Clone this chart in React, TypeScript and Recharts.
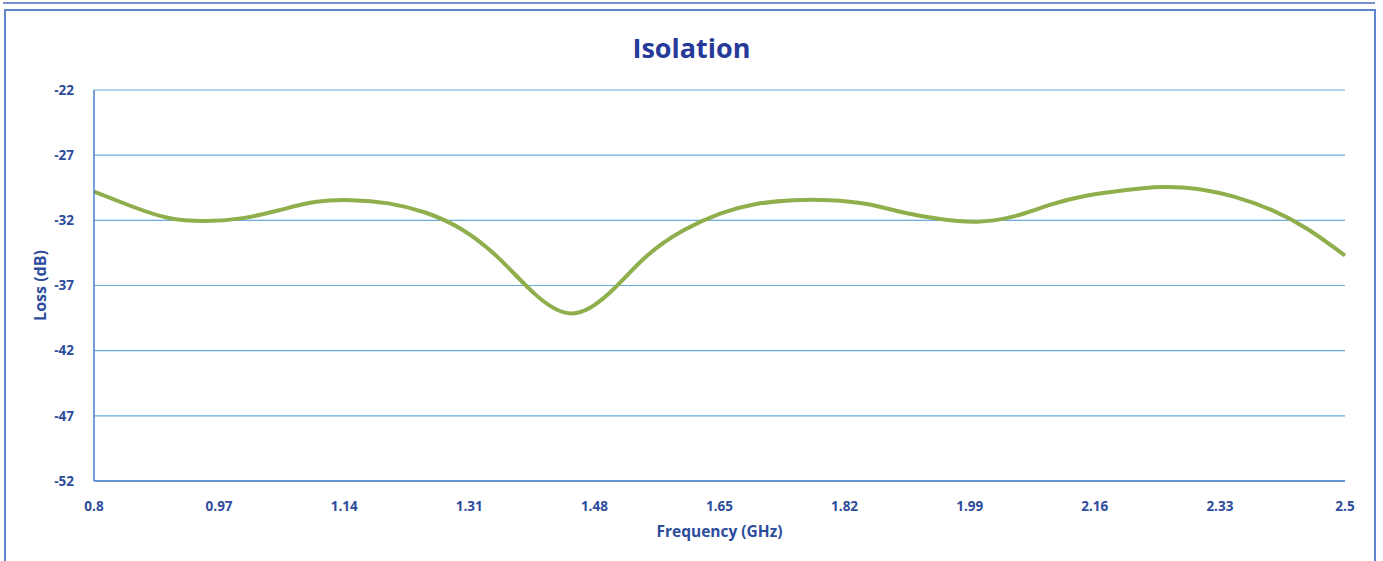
import { LineChart, Line, XAxis, YAxis, CartesianGrid } from 'recharts';

const frequencies = [
  0.8, 0.85, 0.9, 0.95, 1.0, 1.05, 1.1, 1.15, 1.2, 1.25, 1.3, 1.35, 1.4, 1.45, 1.5, 1.55, 1.6, 1.65,
  1.7, 1.75, 1.8, 1.85, 1.9, 1.95, 2.0, 2.05, 2.1, 2.15, 2.2, 2.25, 2.3, 2.35, 2.4, 2.45, 2.5,
];
const isolation = [
  -29.8, -30.9, -31.8, -32.05, -31.85, -31.25, -30.6, -30.45, -30.7, -31.4, -32.7, -34.9, -37.7, -39.15,
  -37.6, -34.8, -32.8, -31.5, -30.75, -30.45, -30.45, -30.75, -31.4, -31.9, -32.1, -31.7, -30.8,
  -30.1, -29.7, -29.45, -29.6, -30.2, -31.2, -32.7, -34.7,
];
const xTicks = [0.8, 0.97, 1.14, 1.31, 1.48, 1.65, 1.82, 1.99, 2.16, 2.33, 2.5];
const yTicks = [-52, -47, -42, -37, -32, -27, -22];

const data = frequencies.map((f, i) => ({ freq: f, loss: isolation[i] }));

const font = '"Open Sans", sans-serif';
const textColor = '#2d4c9c';

export default function App() {
  return (
    <div style={{ position: 'absolute', left: 0, top: 0, width: 1383, height: 561, background: '#fff', overflow: 'hidden', fontFamily: font }}>
      <div style={{ position: 'absolute', left: 3, top: 2, width: 1372, height: 2, background: '#7d8fcf' }} />
      <div style={{ position: 'absolute', left: 4, top: 9, width: 1368, height: 560, border: '2px solid #5f86cc', borderBottom: 'none' }} />
      <div style={{ position: 'absolute', left: 0, top: 29, width: 1383, textAlign: 'center', fontSize: 27, fontWeight: 700, color: '#263a9a' }}>
        Isolation
      </div>
      <div style={{ position: 'absolute', left: 0, top: 0 }}>
        <LineChart width={1383} height={561} data={data} margin={{ top: 90, right: 38, bottom: 20, left: 34 }}>
          <CartesianGrid horizontal vertical={false} stroke="#67acdc" strokeWidth={1.2} />
          <XAxis
            dataKey="freq"
            type="number"
            domain={[0.8, 2.5]}
            ticks={xTicks}
            height={60}
            tickLine={false}
            tickMargin={14}
            stroke="#4a80c8"
            strokeWidth={1.5}
            tick={{ fill: textColor, fontSize: 13.5, fontWeight: 700, fontFamily: font }}
            label={{ value: 'Frequency (GHz)', position: 'insideBottom', offset: 4, fill: textColor, fontSize: 15.5, fontWeight: 700, fontFamily: font }}
          />
          <YAxis
            type="number"
            domain={[-52, -22]}
            ticks={yTicks}
            width={60}
            tickLine={false}
            tickMargin={14}
            stroke="#4a80c8"
            strokeWidth={1.5}
            tick={{ fill: textColor, fontSize: 13.5, fontWeight: 700, fontFamily: font }}
            label={{ value: 'Loss (dB)', angle: -90, position: 'insideLeft', offset: 6, fill: textColor, fontSize: 16, fontWeight: 700, fontFamily: font, style: { textAnchor: 'middle' } }}
          />
          <Line type="natural" dataKey="loss" stroke="#8fae4c" strokeWidth={4} dot={false} isAnimationActive={false} />
        </LineChart>
      </div>
    </div>
  );
}
